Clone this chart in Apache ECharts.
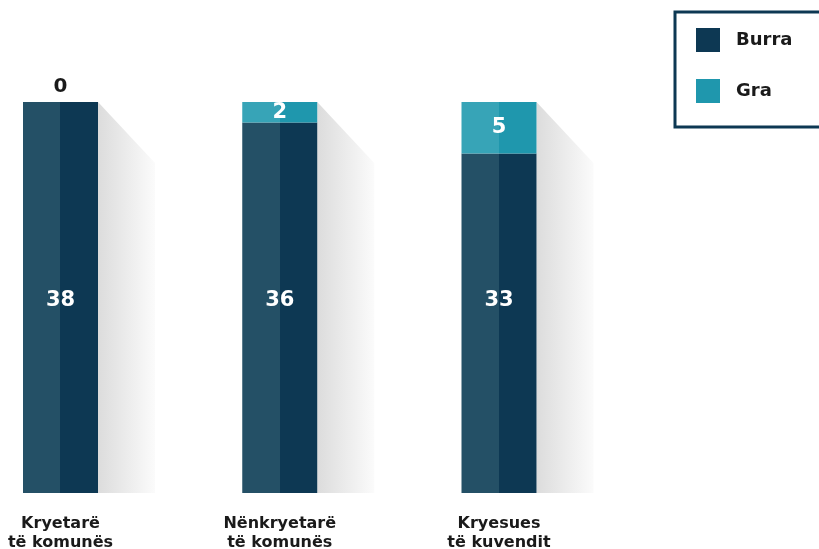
<!DOCTYPE html>
<html>
<head>
<meta charset="utf-8">
<script src="https://cdn.jsdelivr.net/npm/echarts@6/dist/echarts.min.js"></script>
<style>
html,body{margin:0;padding:0;background:#fff;}
#chart{width:819px;height:549px;}
</style>
</head>
<body>
<div id="chart"></div>
<script>
const categories = ['Kryetarë\ntë komunës', 'Nënkryetarë\ntë komunës', 'Kryesues\ntë kuvendit'];
const burraValues = [38, 36, 33];
const graValues = [0, 2, 5];
const seriesNames = ['Burra', 'Gra'];

const totals = categories.map((c, i) => burraValues[i] + graValues[i]);
const FONT = 'DejaVu Sans';

function split(c1, c2) {
  return new echarts.graphic.LinearGradient(0, 0, 1, 0, [
    {offset: 0, color: c1}, {offset: 0.5, color: c1},
    {offset: 0.5, color: c2}, {offset: 1, color: c2}
  ]);
}

const chart = echarts.init(document.getElementById('chart'));
chart.setOption({
  animation: false,
  backgroundColor: '#fff',
  grid: {left: 60.5, right: 320, top: 102, bottom: 56, containLabel: false, outerBoundsMode: 'none'},
  legend: {
    orient: 'vertical', left: 675, top: 12,
    data: [
      {name: seriesNames[0], itemStyle: {color: '#0d3853'}},
      {name: seriesNames[1], itemStyle: {color: '#1f97ad'}}
    ],
    icon: 'rect', itemWidth: 24, itemHeight: 24, itemGap: 27,
    padding: [16, 70, 24, 21],
    borderColor: '#0d3853', borderWidth: 3, backgroundColor: '#fff',
    textStyle: {fontFamily: FONT, fontWeight: 'bold', fontSize: 18, color: '#1a1a1a', padding: [0, 0, 0, 11]}
  },
  xAxis: {
    type: 'category', data: categories, boundaryGap: false,
    axisLine: {show: false}, axisTick: {show: false}, splitLine: {show: false},
    axisLabel: {fontFamily: FONT, fontWeight: 'bold', fontSize: 16, color: '#1a1a1a', lineHeight: 19, margin: 21, interval: 0}
  },
  yAxis: {type: 'value', min: 0, max: 38, show: false, splitLine: {show: false}},
  series: [
    {
      type: 'custom', z: 1, silent: true,
      data: categories.map((c, i) => [i, totals[i]]),
      renderItem: function (params, api) {
        const top = api.coord([api.value(0), api.value(1)]);
        const bottom = api.coord([api.value(0), 0]);
        const x0 = top[0] + 37.5, x1 = x0 + 57;
        return {
          type: 'polygon',
          shape: {points: [[x0, top[1]], [x1, top[1] + 61], [x1, bottom[1]], [x0, bottom[1]]]},
          style: {fill: new echarts.graphic.LinearGradient(0, 0, 1, 0, [
            {offset: 0, color: '#dcdcdc'}, {offset: 1, color: '#fbfbfb'}
          ])}
        };
      }
    },
    {
      name: seriesNames[0], type: 'bar', stack: 'total', z: 2, barWidth: 75,
      data: burraValues,
      itemStyle: {color: split('#245066', '#0d3853')},
      label: {show: true, position: 'insideBottom', distance: 182, color: '#fff',
        fontFamily: FONT, fontWeight: 'bold', fontSize: 21}
    },
    {
      name: seriesNames[1], type: 'bar', stack: 'total', z: 2, barWidth: 75,
      data: graValues.map(v => v === 0
        ? {value: v, label: {position: 'top', color: '#1a1a1a', distance: 5, fontSize: 20}}
        : v),
      itemStyle: {color: split('#37a4b7', '#1f97ad')},
      label: {show: true, position: 'inside', color: '#fff',
        fontFamily: FONT, fontWeight: 'bold', fontSize: 21}
    }
  ]
});
</script>
</body>
</html>
